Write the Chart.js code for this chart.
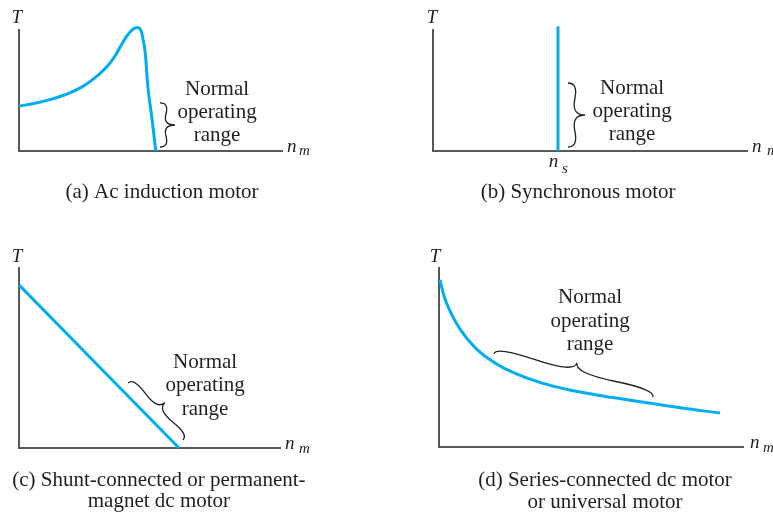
<!DOCTYPE html>
<html>
<head>
<meta charset="utf-8">
<script src="https://cdn.jsdelivr.net/npm/chart.js@4/dist/chart.umd.min.js"></script>
<style>
    body { margin: 0; background: #fff; }
    #board { position: relative; width: 773px; height: 516px; overflow: hidden; }
    #board canvas { position: absolute; }
</style>
</head>
<body>
<div id="board">
    <canvas id="panelA" width="386" height="240" style="left:0;top:0"></canvas>
    <canvas id="panelB" width="387" height="240" style="left:386px;top:0"></canvas>
    <canvas id="panelC" width="386" height="276" style="left:0;top:240px"></canvas>
    <canvas id="panelD" width="387" height="276" style="left:386px;top:240px"></canvas>
</div>
<script>
// Curve values (speed n_m along x, torque T along y, both 0..100 of the axis length)
const aSpeed  = [0, 6, 11, 17.5, 24, 30, 34, 36.5, 39, 41.5, 44, 46, 47, 48, 49, 50.6, 52];
const aTorque = [37, 39.5, 42, 46.5, 53, 62.5, 71, 78.5, 88, 96.5, 101.5, 101, 94, 81, 53, 26, 0];

const bSpeed  = [39.8, 39.8];
const bTorque = [0, 103];

const cSpeed  = [0, 61.3];
const cTorque = [90.6, 0];

const dSpeed  = [0.3, 2.0, 4.3, 6.9, 9.5, 12.8, 17.4, 22, 29, 37.5, 46.4, 57.2, 68.4, 79.3, 92.4];
const dTorque = [93.3, 82.5, 73.5, 66, 60, 54, 48, 43.5, 38.5, 34, 30.7, 27.6, 24.7, 21.9, 19.0];

// Texts
const rangeLines = ['Normal', 'operating', 'range'];
const captionA = ['(a) Ac induction motor'];
const captionB = ['(b) Synchronous motor'];
const captionC = ['(c) Shunt-connected or permanent-', 'magnet dc motor'];
const captionD = ['(d) Series-connected dc motor', 'or universal motor'];

const INK = '#231f20';
const BLUE = '#00aeef';
const AXIS = '#58595b';
const TEXT_FONT = '21px "Liberation Serif", serif';
const VAR_FONT = 'italic 19px "Liberation Serif", serif';
const SUB_FONT = 'italic 15px "Liberation Serif", serif';

function toPoints(xs, ys) {
    return xs.map((x, i) => ({ x: x, y: ys[i] }));
}

// Curly brace between two pixel points, tip pushed out by w
function drawBrace(ctx, x1, y1, x2, y2, w) {
    const q = 0.6;
    let dx = x1 - x2, dy = y1 - y2;
    const len = Math.hypot(dx, dy);
    dx /= len; dy /= len;
    const qx1 = x1 + q * w * dy, qy1 = y1 - q * w * dx;
    const qx2 = (x1 - 0.25 * len * dx) + (1 - q) * w * dy, qy2 = (y1 - 0.25 * len * dy) - (1 - q) * w * dx;
    const tx = (x1 - 0.5 * len * dx) + w * dy, ty = (y1 - 0.5 * len * dy) - w * dx;
    const qx3 = x2 + q * w * dy, qy3 = y2 - q * w * dx;
    const qx4 = (x1 - 0.75 * len * dx) + (1 - q) * w * dy, qy4 = (y1 - 0.75 * len * dy) - (1 - q) * w * dx;
    ctx.beginPath();
    ctx.moveTo(x1, y1);
    ctx.quadraticCurveTo(qx1, qy1, qx2, qy2);
    ctx.quadraticCurveTo(2 * qx2 - qx1, 2 * qy2 - qy1, tx, ty);
    ctx.moveTo(x2, y2);
    ctx.quadraticCurveTo(qx3, qy3, qx4, qy4);
    ctx.quadraticCurveTo(2 * qx4 - qx3, 2 * qy4 - qy3, tx, ty);
    ctx.strokeStyle = INK;
    ctx.lineWidth = 1.3;
    ctx.stroke();
}

// Draws labels and braces placed in data units
const sketchNotes = {
    id: 'sketchNotes',
    afterDraw(chart, args, opts) {
        const ctx = chart.ctx;
        const xs = chart.scales.x, ys = chart.scales.y;
        ctx.save();
        (opts.texts || []).forEach(t => {
            ctx.font = t.font;
            ctx.fillStyle = INK;
            ctx.textAlign = t.align || 'center';
            ctx.textBaseline = 'alphabetic';
            ctx.fillText(t.text, xs.getPixelForValue(t.x), ys.getPixelForValue(t.y));
        });
        (opts.braces || []).forEach(b => {
            drawBrace(ctx, xs.getPixelForValue(b.x1), ys.getPixelForValue(b.y1),
                xs.getPixelForValue(b.x2), ys.getPixelForValue(b.y2), b.w);
        });
        ctx.restore();
    }
};

// Stacked lines of text, centred on x, first baseline at y, step in data units
function textBlock(lines, x, y, step) {
    return lines.map((s, i) => ({ text: s, x: x, y: y - i * step, font: TEXT_FONT }));
}

function axisLabels(tx, ty, nx, ny, mx, my, sub) {
    return [
        { text: 'T', x: tx, y: ty, font: VAR_FONT },
        { text: 'n', x: nx, y: ny, font: VAR_FONT, align: 'left' },
        { text: sub, x: mx, y: my, font: SUB_FONT, align: 'left' }
    ];
}

function makePanel(canvasId, xs, ys, padding, texts, braces) {
    const ctx = document.getElementById(canvasId).getContext('2d');
    return new Chart(ctx, {
        type: 'scatter',
        data: {
            datasets: [{
                data: toPoints(xs, ys),
                showLine: true,
                borderColor: BLUE,
                borderWidth: 3,
                pointRadius: 0,
                tension: 0.4,
                borderCapStyle: 'butt',
                borderJoinStyle: 'round',
                clip: false
            }]
        },
        options: {
            responsive: false,
            animation: false,
            devicePixelRatio: 1,
            layout: { padding: padding },
            plugins: {
                legend: { display: false },
                tooltip: { enabled: false },
                sketchNotes: { texts: texts, braces: braces }
            },
            scales: {
                x: {
                    type: 'linear', min: 0, max: 100,
                    grid: { display: false, drawTicks: false },
                    ticks: { display: false },
                    border: { display: true, color: AXIS, width: 2 }
                },
                y: {
                    type: 'linear', min: 0, max: 100,
                    grid: { display: false, drawTicks: false },
                    ticks: { display: false },
                    border: { display: true, color: AXIS, width: 2 }
                }
            }
        },
        plugins: [sketchNotes]
    });
}

// (a) Ac induction motor
makePanel('panelA', aSpeed, aTorque,
    { left: 19, top: 30, right: 104, bottom: 89 },
    [].concat(
        axisLabels(-0.8, 106, 101.9, -0.8, 106.5, -3.3, 'm'),
        textBlock(rangeLines, 75.3, 46.3, 19.2),
        textBlock(captionA, 54.4, -38.8, 18)
    ),
    [{ x1: 53.6, y1: 3.3, x2: 53.6, y2: 39.7, w: 15 }]
);

// (b) Synchronous motor
makePanel('panelB', bSpeed, bTorque,
    { left: 47, top: 30, right: 26, bottom: 89 },
    [].concat(
        axisLabels(-0.3, 106, 101.6, -0.8, 106.4, -3.3, 'm'),
        [{ text: 'n', x: 36.9, y: -13.2, font: VAR_FONT, align: 'left' },
         { text: 's', x: 41.1, y: -18.2, font: SUB_FONT, align: 'left' }],
        textBlock(rangeLines, 63.4, 47.1, 19.2),
        textBlock(captionB, 46.2, -38.8, 18)
    ),
    [{ x1: 43.0, y1: 3.3, x2: 43.0, y2: 56.2, w: 17 }]
);

// (c) Shunt-connected or permanent-magnet dc motor
makePanel('panelC', cSpeed, cTorque,
    { left: 19, top: 28, right: 106, bottom: 68 },
    [].concat(
        axisLabels(-0.8, 103.5, 101.9, -0.6, 107.3, -2.8, 'm'),
        textBlock(rangeLines, 71.3, 44.4, 12.9),
        textBlock(captionC, 53.6, -21.1, 11.7)
    ),
    [{ x1: 62.8, y1: 4.4, x2: 41.8, y2: 36.1, w: 13 }]
);

// (d) Series-connected dc motor or universal motor
makePanel('panelD', dSpeed, dTorque,
    { left: 53, top: 28, right: 30, bottom: 69 },
    [].concat(
        axisLabels(-1.3, 103.5, 102.3, -0.6, 106.6, -2.8, 'm'),
        textBlock(rangeLines, 49.7, 80.4, 13.1),
        textBlock(captionD, 54.6, -21.8, 12.3)
    ),
    [{ x1: 70.4, y1: 27.9, x2: 18.1, y2: 52.0, w: 13 }]
);
</script>
</body>
</html>
